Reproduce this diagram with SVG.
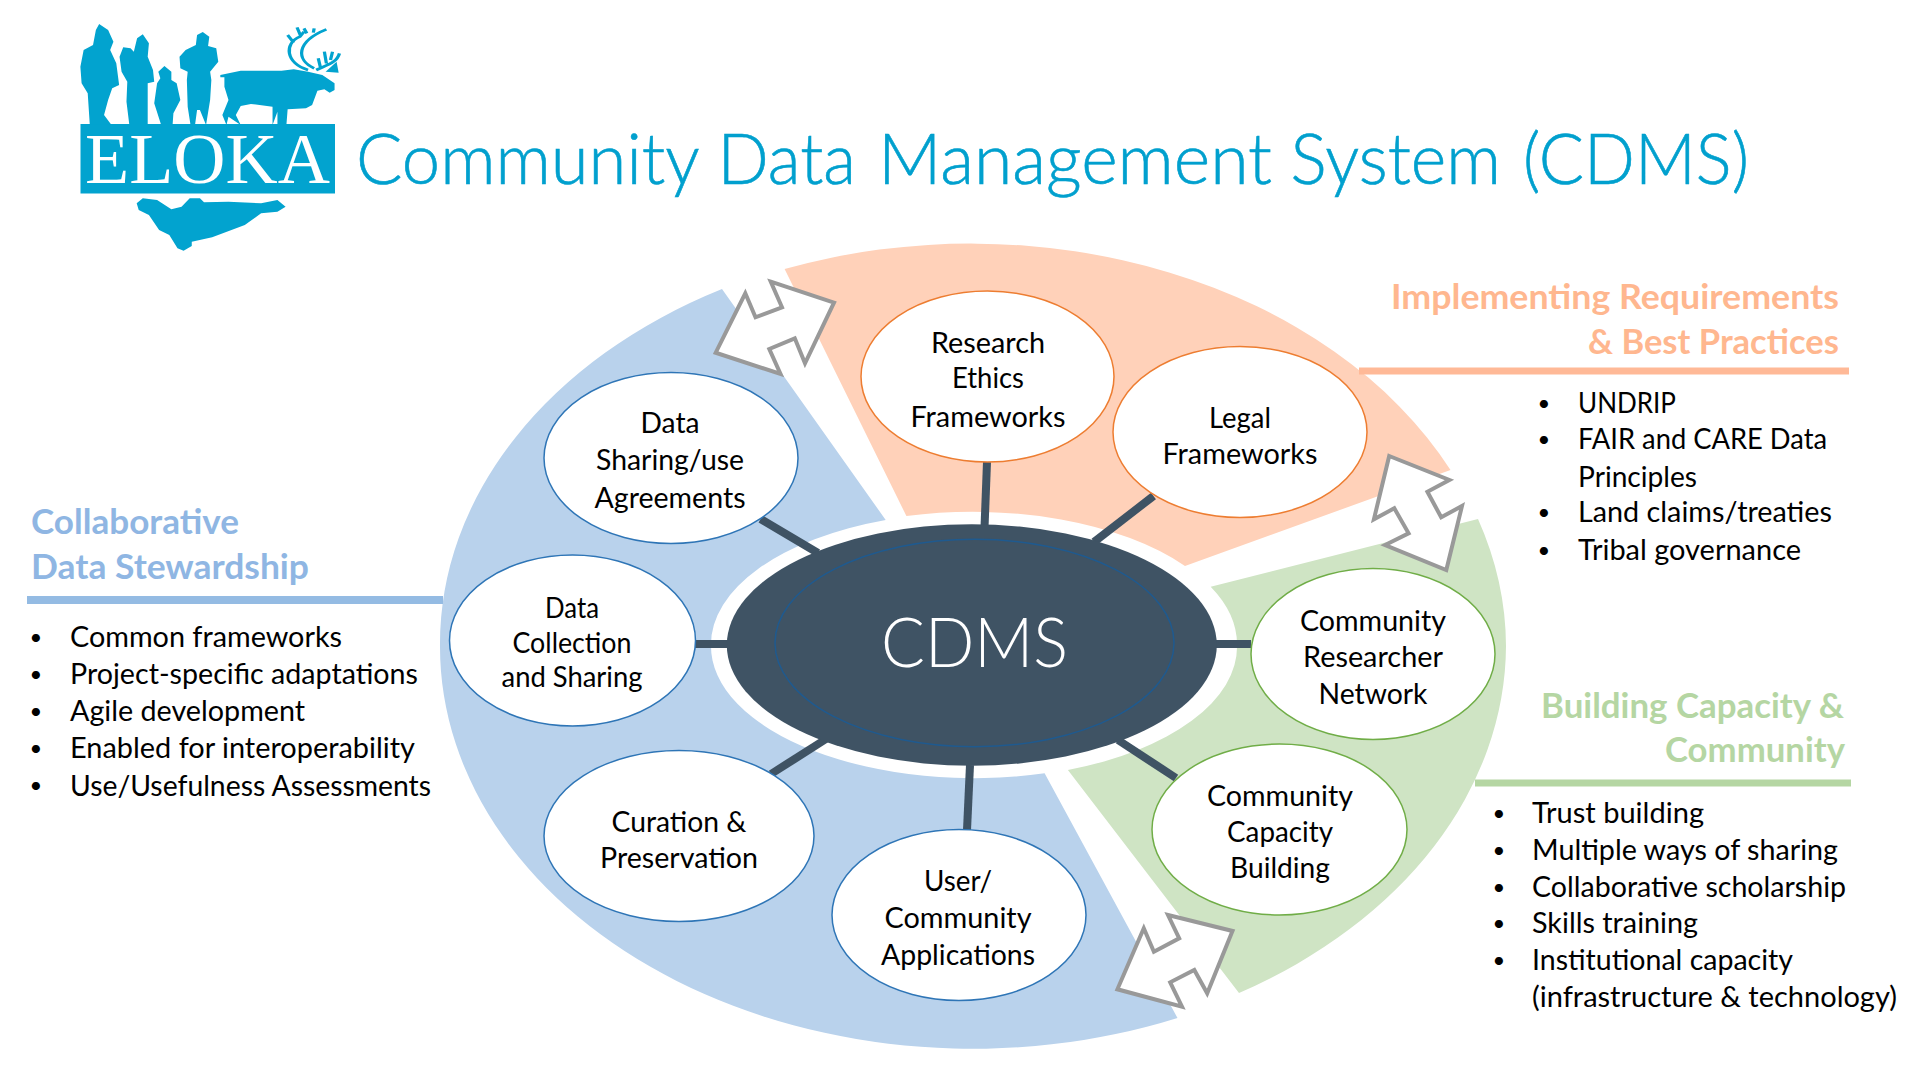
<svg xmlns="http://www.w3.org/2000/svg" width="1920" height="1080" viewBox="0 0 1920 1080">
<style>
text{font-family:Lato,"Open Sans",sans-serif;fill:#000}
.n{font-size:28px;text-anchor:middle}
.l{font-size:28px}
.d{font-size:22px;text-anchor:middle}
.h{font-size:34px;font-weight:700}
.title{font-size:70px;font-weight:300;fill:#01A0CE;stroke:#01A0CE;stroke-width:.6}
.node{fill:#fff;stroke-width:1.5}
.b .node{stroke:#2E75B6}.o .node{stroke:#ED7D31}.g .node{stroke:#70AD47}
.c line{stroke:#3F5364;stroke-width:8}
.arrow{fill:#fff;stroke:#999;stroke-width:4}
.logo{fill:#02A3CF}
</style>
<rect width="1920" height="1080" fill="#fff"/>
<g id="logo">
<rect class="logo" x="80.5" y="124" width="254.5" height="69.5"/>
<g class="logo" transform="scale(.408 .3333)">
<path d="M243 72L265 90L278 125L270 150L285 190L292 255L275 265L265 300L255 345L272 373L220 373L215 280L200 250L197 200L205 150L228 135L235 90Z"/>
<path d="M350 103L365 130L362 170L375 210L378 245L362 250L362 375L317 375L310 305L312 245L298 215L293 170L302 142L320 145L328 155L336 115Z"/>
<path d="M403 198L420 215L420 240L433 250L442 300L425 340L423 375L395 375L378 310L385 250L393 235L388 215Z"/>
<path d="M497 96L513 110L510 138L530 145L535 185L515 215L518 240L515 300L505 375L490 330L483 330L478 375L467 375L460 320L458 240L460 215L442 205L440 170L455 150L480 135L483 105Z"/>
<path d="M540 225L590 212L690 212L720 208L755 215L790 225L820 250L820 270L808 278L795 268L778 272L765 315L750 325L705 328L702 375L680 375L680 335L668 375L668 320L615 312L590 318L578 345L590 375L560 350L555 375L545 345L560 300L550 260L550 232L540 232Z"/>
<path d="M825 185L830 218L798 215Z"/>
<path d="M755 210C700 190 695 130 735 110L745 95M770 205C725 180 725 125 800 88M775 210C800 195 825 190 832 160M705 105L720 128M728 82L736 105M745 85L752 100M770 85L768 98M780 175L785 200M795 155L800 190M815 155L810 180" fill="none" stroke="#02A3CF" stroke-width="8"/>
<path d="M335 610L350 595L385 600L420 628L445 620L465 595L490 595L500 607L560 605L640 610L680 600L700 620L680 635L640 640L600 675L520 712L470 725L470 738L450 752L435 745L415 705L390 690L365 645L340 630Z"/>
</g>
<text x="85" y="183" font-size="72" textLength="245" lengthAdjust="spacingAndGlyphs" style="font-family:'Liberation Serif',serif;fill:#fff">ELOKA</text>
</g>
<text class="title" y="184"><tspan x="356" textLength="342" lengthAdjust="spacingAndGlyphs">Community</tspan> <tspan x="717.5" textLength="138.5" lengthAdjust="spacingAndGlyphs">Data</tspan> <tspan x="878" textLength="394" lengthAdjust="spacingAndGlyphs">Management</tspan> <tspan x="1290.6" textLength="210.4" lengthAdjust="spacingAndGlyphs">System</tspan> <tspan x="1523" textLength="226" lengthAdjust="spacingAndGlyphs">(CDMS)</tspan></text>

<g id="wedges">
<path id="wedge-blue" fill="#B9D2EC" d="M722 289A533 402 0 0 0 440 646A533 402 0 0 0 1177.5 1018L1044.6 773.3A263 132 0 0 1 711 645A263 132 0 0 1 885.7 520Z"/>
<path id="wedge-peach" fill="#FFD1B9" d="M784.6 269A533 402 0 0 1 1450.5 470L1185 566A263 132 0 0 0 906.4 516Z"/>
<path id="wedge-green" fill="#CFE4C4" d="M1478 519A533 402 0 0 1 1506 646A533 402 0 0 1 1239 993L1067.9 770A263 132 0 0 0 1237 645A263 132 0 0 0 1210.7 586.7Z"/>
</g>

<g id="connectors" class="c">
<line x1="987" y1="462" x2="984.5" y2="528"/>
<line x1="1153.5" y1="496" x2="1094" y2="542"/>
<line x1="760.6" y1="519" x2="818" y2="553"/>
<line x1="695" y1="644" x2="730" y2="644"/>
<line x1="771" y1="774" x2="826" y2="739"/>
<line x1="967" y1="830" x2="970" y2="765"/>
<line x1="1176" y1="778" x2="1118" y2="740"/>
<line x1="1214" y1="644" x2="1251" y2="644"/>
<line x1="1359" y1="371" x2="1849" y2="371" style="stroke:#FFB997;stroke-width:7"/>
<line x1="1475" y1="783" x2="1851" y2="783" style="stroke:#B5D6A3;stroke-width:7"/>
<line x1="27" y1="600" x2="443" y2="600" style="stroke:#94BBE3;stroke-width:8"/>
</g>

<g id="arrows" class="arrow">
<polygon points="770.8,281.7 834,302.7 805,363.3 794.8,338.3 769.3,349 780.5,374 715.7,352.7 745.3,293.3 755.5,317.3 782,307.3"/>
<polygon points="1389.2,456 1449.4,480 1427.4,491.7 1441.2,517.3 1462,506 1446.3,570 1385.1,545 1408.6,533.3 1394.3,508.3 1373.9,519.3"/>
<polygon points="1168,915 1232.5,931 1207.2,993.3 1194.3,970 1170.2,982.3 1182,1006.7 1117.4,989.3 1143.8,928.3 1153.9,951.7 1179.2,938.3"/>
</g>

<g id="cdms">
<ellipse cx="971.8" cy="645" rx="245" ry="120.7" fill="#3F5364"/>
<ellipse cx="974.5" cy="643" rx="199.5" ry="103.7" fill="none" stroke="#1F5A8F" stroke-width="1.5"/>
<text x="881" y="667" font-size="68" textLength="187" lengthAdjust="spacingAndGlyphs" style="fill:#fff;font-weight:300">CDMS</text>
</g>

<g id="node-research" class="o"><ellipse class="node" cx="987.5" cy="376.5" rx="126.5" ry="85.5"/>
<text class="n" x="988" y="353" textLength="114" lengthAdjust="spacingAndGlyphs">Research</text><text class="n" x="988" y="388" textLength="72" lengthAdjust="spacingAndGlyphs">Ethics</text><text class="n" x="988" y="427" textLength="155" lengthAdjust="spacingAndGlyphs">Frameworks</text></g>
<g id="node-legal" class="o"><ellipse class="node" cx="1240" cy="432" rx="127" ry="85.5"/>
<text class="n" x="1240" y="428" textLength="62" lengthAdjust="spacingAndGlyphs">Legal</text><text class="n" x="1240" y="464" textLength="155" lengthAdjust="spacingAndGlyphs">Frameworks</text></g>
<g id="node-sharing" class="b"><ellipse class="node" cx="671" cy="458" rx="127" ry="85.5"/>
<text class="n" x="670" y="433" textLength="59" lengthAdjust="spacingAndGlyphs">Data</text><text class="n" x="670" y="470" textLength="148" lengthAdjust="spacingAndGlyphs">Sharing/use</text><text class="n" x="670" y="508" textLength="151" lengthAdjust="spacingAndGlyphs">Agreements</text></g>
<g id="node-collection" class="b"><ellipse class="node" cx="572.5" cy="640.5" rx="123" ry="85.5"/>
<text class="n" x="572" y="618" textLength="54" lengthAdjust="spacingAndGlyphs">Data</text><text class="n" x="572" y="653" textLength="119" lengthAdjust="spacingAndGlyphs">Collection</text><text class="n" x="572" y="687" textLength="141" lengthAdjust="spacingAndGlyphs">and Sharing</text></g>
<g id="node-curation" class="b"><ellipse class="node" cx="679" cy="836" rx="135" ry="85.5"/>
<text class="n" x="679" y="832" textLength="135" lengthAdjust="spacingAndGlyphs">Curation &amp;</text><text class="n" x="679" y="868" textLength="158" lengthAdjust="spacingAndGlyphs">Preservation</text></g>
<g id="node-user" class="b"><ellipse class="node" cx="959" cy="915" rx="127" ry="85.5"/>
<text class="n" x="958" y="891" textLength="68" lengthAdjust="spacingAndGlyphs">User/</text><text class="n" x="958" y="928" textLength="147" lengthAdjust="spacingAndGlyphs">Community</text><text class="n" x="958" y="965" textLength="154" lengthAdjust="spacingAndGlyphs">Applications</text></g>
<g id="node-network" class="g"><ellipse class="node" cx="1373" cy="654" rx="122" ry="85.5"/>
<text class="n" x="1373" y="631" textLength="146" lengthAdjust="spacingAndGlyphs">Community</text><text class="n" x="1373" y="667" textLength="140" lengthAdjust="spacingAndGlyphs">Researcher</text><text class="n" x="1373" y="704" textLength="109" lengthAdjust="spacingAndGlyphs">Network</text></g>
<g id="node-capacity" class="g"><ellipse class="node" cx="1279.5" cy="829.5" rx="127.5" ry="85.5"/>
<text class="n" x="1280" y="806" textLength="146" lengthAdjust="spacingAndGlyphs">Community</text><text class="n" x="1280" y="842" textLength="106" lengthAdjust="spacingAndGlyphs">Capacity</text><text class="n" x="1280" y="878" textLength="100" lengthAdjust="spacingAndGlyphs">Building</text></g>

<g id="panel-blue">
<text class="h" x="31" y="534" textLength="208" lengthAdjust="spacingAndGlyphs" style="fill:#8FB6E3">Collaborative</text><text class="h" x="31" y="579" textLength="278" lengthAdjust="spacingAndGlyphs" style="fill:#8FB6E3">Data Stewardship</text>
<text class="d" x="36" y="645">•</text><text class="l" x="70" y="647" textLength="272" lengthAdjust="spacingAndGlyphs">Common frameworks</text>
<text class="d" x="36" y="682">•</text><text class="l" x="70" y="684" textLength="348" lengthAdjust="spacingAndGlyphs">Project-specific adaptations</text>
<text class="d" x="36" y="719">•</text><text class="l" x="70" y="721" textLength="235" lengthAdjust="spacingAndGlyphs">Agile development</text>
<text class="d" x="36" y="756">•</text><text class="l" x="70" y="758" textLength="345" lengthAdjust="spacingAndGlyphs">Enabled for interoperability</text>
<text class="d" x="36" y="793">•</text><text class="l" x="70" y="796" textLength="361" lengthAdjust="spacingAndGlyphs">Use/Usefulness Assessments</text>
</g>
<g id="panel-peach">
<text class="h" x="1391" y="309" textLength="448" lengthAdjust="spacingAndGlyphs" style="fill:#FFB78F">Implementing Requirements</text>
<text class="h" x="1588" y="354" textLength="251" lengthAdjust="spacingAndGlyphs" style="fill:#FFB78F">&amp; Best Practices</text>
<text class="d" x="1544" y="411">•</text><text class="l" x="1578" y="413" textLength="98" lengthAdjust="spacingAndGlyphs">UNDRIP</text>
<text class="d" x="1544" y="447">•</text><text class="l" x="1578" y="449" textLength="249" lengthAdjust="spacingAndGlyphs">FAIR and CARE Data</text>
<text class="l" x="1578" y="487" textLength="119" lengthAdjust="spacingAndGlyphs">Principles</text>
<text class="d" x="1544" y="520">•</text><text class="l" x="1578" y="522" textLength="254" lengthAdjust="spacingAndGlyphs">Land claims/treaties</text>
<text class="d" x="1544" y="558">•</text><text class="l" x="1578" y="560" textLength="223" lengthAdjust="spacingAndGlyphs">Tribal governance</text>
</g>
<g id="panel-green">
<text class="h" x="1541" y="718" textLength="303" lengthAdjust="spacingAndGlyphs" style="fill:#B5D6A3">Building Capacity &amp;</text>
<text class="h" x="1665" y="762" textLength="180" lengthAdjust="spacingAndGlyphs" style="fill:#B5D6A3">Community</text>
<text class="d" x="1499" y="821">•</text><text class="l" x="1532" y="823" textLength="172" lengthAdjust="spacingAndGlyphs">Trust building</text>
<text class="d" x="1499" y="858">•</text><text class="l" x="1532" y="860" textLength="306" lengthAdjust="spacingAndGlyphs">Multiple ways of sharing</text>
<text class="d" x="1499" y="895">•</text><text class="l" x="1532" y="897" textLength="314" lengthAdjust="spacingAndGlyphs">Collaborative scholarship</text>
<text class="d" x="1499" y="931">•</text><text class="l" x="1532" y="933" textLength="166" lengthAdjust="spacingAndGlyphs">Skills training</text>
<text class="d" x="1499" y="968">•</text><text class="l" x="1532" y="970" textLength="261" lengthAdjust="spacingAndGlyphs">Institutional capacity</text>
<text class="l" x="1532" y="1007" textLength="365" lengthAdjust="spacingAndGlyphs">(infrastructure &amp; technology)</text>
</g>
</svg>
